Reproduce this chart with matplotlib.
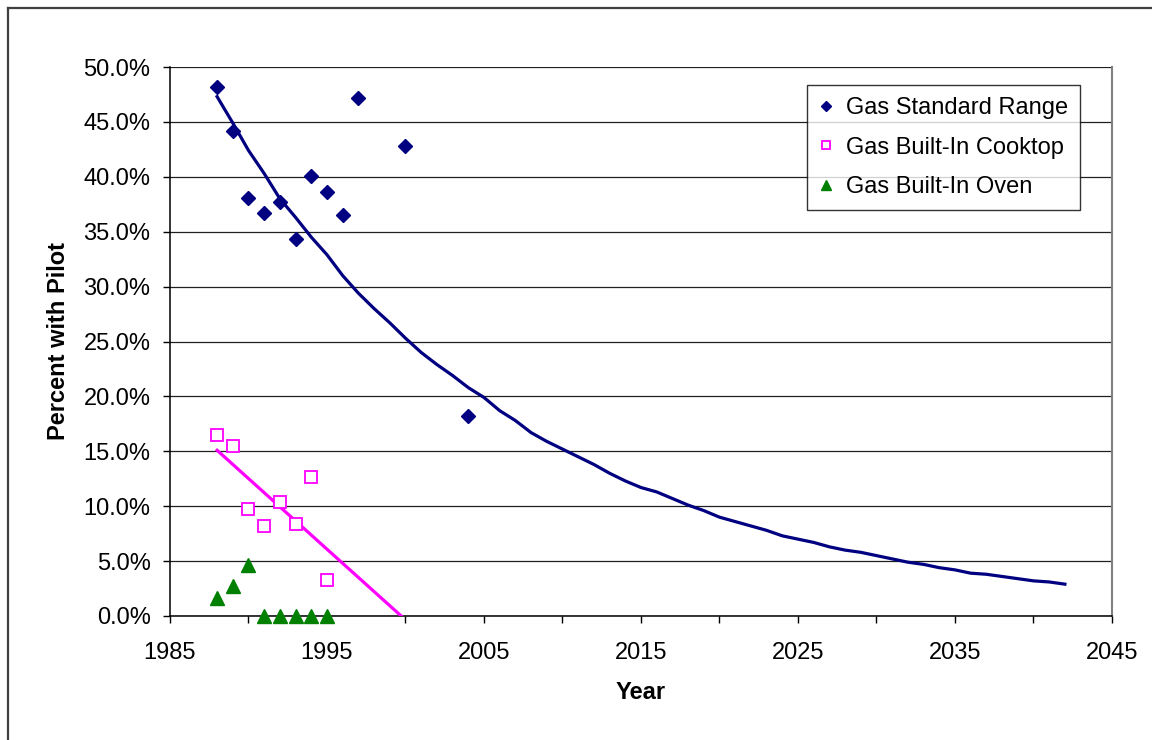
import numpy as np
import matplotlib.pyplot as plt
from matplotlib.lines import Line2D
from matplotlib.ticker import MultipleLocator, FixedLocator, FuncFormatter

# ======================================================
# DATA
# ======================================================
range_years = [1988, 1989, 1990, 1991, 1992, 1993, 1994, 1995, 1996, 1997, 2000, 2004]
range_pct = [48.2, 44.2, 38.1, 36.7, 37.7, 34.3, 40.1, 38.6, 36.5, 47.2, 42.8, 18.2]

cooktop_years = [1988, 1989, 1990, 1991, 1992, 1993, 1994, 1995]
cooktop_pct = [16.5, 15.5, 9.7, 8.2, 10.4, 8.4, 12.7, 3.3]

oven_years = [1988, 1989, 1990, 1991, 1992, 1993, 1994, 1995]
oven_pct = [1.6, 2.7, 4.6, 0.0, 0.0, 0.0, 0.0, 0.0]

# projected curve for the standard range
proj_years = list(range(1988, 2043))
proj_pct = [47.3, 44.9, 42.4, 40.3, 38.0, 36.3, 34.5, 32.9, 31.0, 29.4,
            28.0, 26.7, 25.3, 24.0, 22.9, 21.9, 20.8, 19.9, 18.7, 17.8,
            16.7, 15.9, 15.2, 14.5, 13.8, 13.0, 12.3, 11.7, 11.3, 10.7,
            10.1, 9.6, 9.0, 8.6, 8.2, 7.8, 7.3, 7.0, 6.7, 6.3,
            6.0, 5.8, 5.5, 5.2, 4.9, 4.7, 4.4, 4.2, 3.9, 3.8,
            3.6, 3.4, 3.2, 3.1, 2.9]

year_ticks = [1985, 1995, 2005, 2015, 2025, 2035, 2045]

NAVY = "#000080"
MAGENTA = "#FF00FF"
GREEN = "#008000"

plt.rcParams["font.family"] = ["Liberation Sans", "DejaVu Sans"]
FS = 17

fig = plt.figure(figsize=(11.52, 7.4), dpi=100)
ax = fig.add_axes([170 / 1152, 1 - 616 / 740, (1112 - 170) / 1152, (616 - 67) / 740])

# grid lines first
ax.set_axisbelow(True)
ax.yaxis.grid(True, color="#202020", linewidth=0.9)

# ------------------------------------------------------
# Series
# ------------------------------------------------------
ax.plot(proj_years, proj_pct, color=NAVY, linewidth=2.3, zorder=3)

# linear trend for the cooktop points
coef = np.polyfit(cooktop_years, cooktop_pct, 1)
x_end = -coef[1] / coef[0]
tx = np.array([cooktop_years[0], x_end])
ax.plot(tx, np.polyval(coef, tx), color=MAGENTA, linewidth=2.3, zorder=3)

ax.plot(range_years, range_pct, linestyle="none", marker="D", markersize=6.8,
        color=NAVY, label="Gas Standard Range", zorder=4, clip_on=False)
ax.plot(cooktop_years, cooktop_pct, linestyle="none", marker="s", markersize=8,
        markerfacecolor="white", markeredgecolor=MAGENTA, markeredgewidth=1.3,
        label="Gas Built-In Cooktop", zorder=4, clip_on=False)
ax.plot(oven_years, oven_pct, linestyle="none", marker="^", markersize=9.5,
        color=GREEN, label="Gas Built-In Oven", zorder=4, clip_on=False)

# ------------------------------------------------------
# Axes formatting
# ------------------------------------------------------
ax.set_xlim(1985, 2045)
ax.set_ylim(0, 50)
ax.xaxis.set_major_locator(FixedLocator(year_ticks))
ax.xaxis.set_minor_locator(MultipleLocator(5))
ax.yaxis.set_major_locator(MultipleLocator(5))
ax.yaxis.set_major_formatter(FuncFormatter(lambda v, p: f"{v:.1f}%"))

ax.tick_params(axis="both", which="both", direction="out", length=5, width=1,
               color="black", labelsize=FS)
ax.tick_params(axis="x", which="major", pad=14)
ax.tick_params(axis="y", which="major", pad=9)

for s in ["left", "bottom"]:
    ax.spines[s].set_color("black")
    ax.spines[s].set_linewidth(1.1)
ax.spines["top"].set_visible(False)
ax.spines["right"].set_color("#808080")
ax.spines["right"].set_linewidth(1.5)

ax.set_xlabel("Year", fontsize=FS, fontweight="bold", labelpad=12)
ax.set_ylabel("Percent with Pilot", fontsize=FS, fontweight="bold", labelpad=10)

leg = ax.legend(loc="upper left", bbox_to_anchor=(807 / 1152, 1 - 85 / 740),
                bbox_transform=fig.transFigure, fontsize=FS, frameon=True,
                fancybox=False, edgecolor="black", handlelength=0.6,
                handletextpad=0.55, labelspacing=0.75, borderpad=0.5,
                borderaxespad=0, markerscale=0.75)
leg.get_frame().set_linewidth(1.0)

# chart area border (left and top edges visible)
fig.add_artist(Line2D([7.5 / 1152, 7.5 / 1152], [0, 1 - 7.5 / 740],
                      transform=fig.transFigure, color="#404040", linewidth=1.6))
fig.add_artist(Line2D([7.5 / 1152, 1], [1 - 7.5 / 740, 1 - 7.5 / 740],
                      transform=fig.transFigure, color="#404040", linewidth=1.6))

fig.savefig("out.png", dpi=100)
